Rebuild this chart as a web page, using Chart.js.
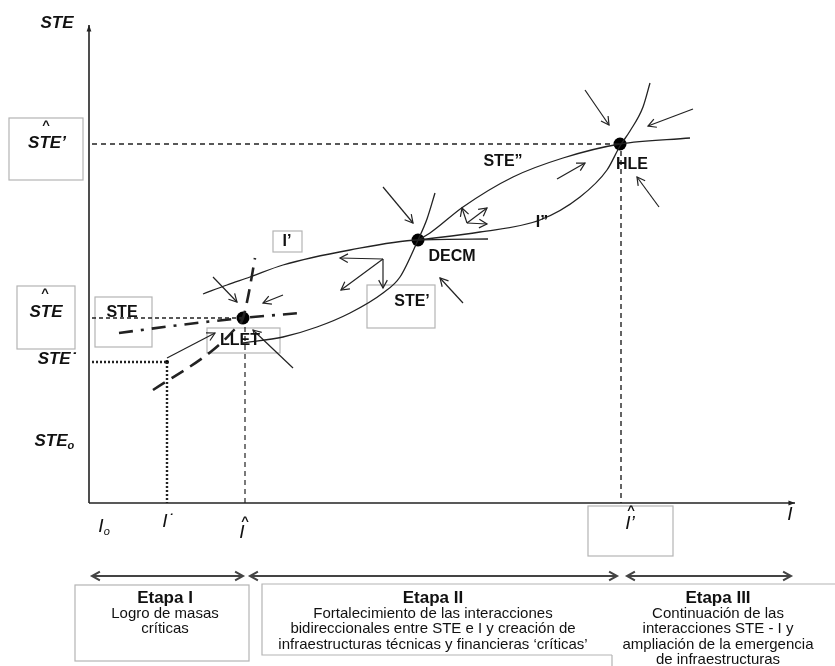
<!DOCTYPE html>
<html>
<head>
<meta charset="utf-8">
<script src="https://cdn.jsdelivr.net/npm/chart.js@4/dist/chart.umd.min.js"></script>
<style>html,body{margin:0;padding:0;background:#fff}</style>
</head>
<body>
<canvas id="myChart" width="835" height="666"></canvas>
<script>
// diagram units: origin at the I0 / STE0 corner, one unit ~ 10px

// axes
var axisSTE = [[0, 0], [0, 47.8]];
var axisI = [[0, 0], [70.6, 0]];

// guide lines to the equilibria
var hleLevel = [[0.3, 35.9], [53.1, 35.9]];
var hleDrop = [[53.2, 35.2], [53.2, 0]];
var lletLevel = [[0.3, 18.5], [15.4, 18.5]];
var lletDrop = [[15.6, 17.6], [15.6, 0]];
var starLevel = [[0.3, 14.1], [7.8, 14.1]];
var starDrop = [[7.8, 14.1], [7.8, 0]];

// curves
var curveI1 = [[11.4, 20.9], [13.8, 21.8], [16.1, 22.6], [19.4, 23.8], [26.1, 25.3], [32.9, 26.3], [39.9, 26.4]];
var curveSTE1 = [[15.4, 16.0], [19.4, 16.6], [22.8, 17.6], [26.1, 19.0], [29.4, 21.0], [31.1, 22.6], [32.9, 26.3], [33.8, 28.4], [34.6, 31.0]];
var curveSTE2 = [[32.9, 26.3], [34.1, 27.0], [37.4, 29.6], [42.4, 32.6], [47.4, 34.5], [53.1, 35.9], [60.1, 36.5]];
var curveI2 = [[32.9, 26.3], [39.1, 27.1], [45.1, 28.3], [49.1, 30.6], [51.8, 33.3], [53.1, 35.7], [54.1, 37.2], [55.4, 39.6], [56.1, 42.0]];
var steepDash = [[6.4, 11.3], [12.4, 15.3], [14.4, 17.2], [15.4, 18.5], [15.9, 20.6], [16.6, 24.5]];
var dashDot = [[3.0, 17.0], [9.1, 17.8], [15.4, 18.5], [21.1, 19.0]];

// equilibrium points
var equilibria = [[15.4, 18.5], [32.9, 26.3], [53.1, 35.9]];
var startPoint = [[7.8, 14.1]];

// small arrows [from, to]
var arrows = [
  [[7.8, 14.5], [12.6, 17.0]],
  [[12.4, 22.6], [14.8, 20.1]],
  [[19.4, 20.8], [17.4, 20.0]],
  [[20.4, 13.5], [16.4, 17.3]],
  [[29.4, 31.6], [32.4, 28.0]],
  [[37.4, 20.0], [35.1, 22.5]],
  [[29.4, 24.4], [25.1, 24.5]],
  [[29.4, 24.4], [29.4, 21.5]],
  [[29.4, 24.4], [25.2, 21.3]],
  [[37.8, 28.0], [37.3, 29.5]],
  [[37.8, 28.0], [39.8, 29.5]],
  [[37.8, 28.0], [39.8, 27.9]],
  [[46.8, 32.4], [49.6, 34.0]],
  [[49.6, 41.3], [52.0, 37.8]],
  [[60.4, 39.4], [55.9, 37.7]],
  [[57.0, 29.6], [54.8, 32.6]]
];

// stage spans along I
var stageSpans = [[0.3, 15.4], [16.1, 52.8], [53.8, 70.2]];
var stageTitles = ['Etapa I', 'Etapa II', 'Etapa III'];
var stageText = [
  ['Logro de masas', 'críticas'],
  ['Fortalecimiento de las interacciones', 'bidireccionales entre STE e I y creación de', 'infraestructuras técnicas y financieras \u2018críticas\u2019'],
  ['Continuación de las', 'interacciones STE - I y', 'ampliación de la emergencia', 'de infraestructuras']
];
var stageCenters = [7.6, 34.4, 62.9];

// label boxes [x1, yTop, x2, yBottom]
var boxes = [
  [-8.0, 38.5, -0.6, 32.3],
  [-7.2, 21.7, -1.4, 15.4],
  [0.6, 20.6, 6.3, 15.6],
  [11.8, 17.5, 19.1, 15.0],
  [18.4, 27.2, 21.3, 25.1],
  [27.8, 21.8, 34.6, 17.5],
  [49.9, -0.3, 58.4, -5.3],
  [-1.4, -8.2, 16.0, -15.8]
];
// open frame round the later stages
var stageFrame = [[74.6, -8.1], [17.3, -8.1], [17.3, -15.2], [52.3, -15.2]];
var stageFrameTail = [[52.3, -15.2], [52.3, -16.3]];

// axis labels: [text, x, y, subscript]
var axisLabels = [
  ['STE', -3.2, 48.0, ''],
  ['STE\u2019', -4.2, 36.0, ''],
  ['STE', -4.3, 19.1, ''],
  ['STE\u02D9', -3.2, 14.4, ''],
  ['STE', -3.8, 6.2, 'o']
];
var iLabels = [
  ['I', 1.2, -2.4, 'o'],
  ['I\u02D9', 7.9, -1.9, ''],
  ['I', 15.3, -3.0, ''],
  ['I\u2019', 54.1, -2.1, ''],
  ['I', 70.1, -1.2, '']
];
var hats = [[-4.3, 37.8], [-4.4, 21.0], [15.6, -1.8], [54.2, -0.7]];

// curve / point names
var curveLabels = [
  ['STE', 3.3, 19.0],
  ['LLET', 15.1, 16.2],
  ['I\u2019', 19.8, 26.1],
  ['STE\u2019', 32.3, 20.1],
  ['DECM', 36.3, 24.6],
  ['STE\u201D', 41.4, 34.1],
  ['I\u201D', 45.3, 28.0],
  ['HLE', 54.3, 33.8]
];

var INK = '#222';

function pts(arr) {
  return arr.map(function (p) { return {x: p[0], y: p[1]}; });
}
function line(arr, extra) {
  return Object.assign({
    data: pts(arr), showLine: true, pointRadius: 0, borderColor: INK,
    borderWidth: 1.3, tension: 0, fill: false
  }, extra || {});
}
var smooth = {tension: 0.4, cubicInterpolationMode: 'monotone'};

var datasets = [
  line(axisSTE, {borderWidth: 1.6, arrow: 'filled'}),
  line(axisI, {borderWidth: 1.6, arrow: 'filled'}),
  line(hleLevel, {borderWidth: 1.6, borderDash: [5, 4]}),
  line(hleDrop, {borderWidth: 1.4, borderDash: [5, 4]}),
  line(lletLevel, {borderWidth: 1.6, borderDash: [4, 3]}),
  line(lletDrop, {borderWidth: 1.2, borderDash: [5, 4]}),
  line(starLevel, {borderWidth: 2.4, borderDash: [2, 2]}),
  line(starDrop, {borderWidth: 2.4, borderDash: [2, 2]}),
  line(curveI1, smooth),
  line(curveSTE1, smooth),
  line(curveSTE2, smooth),
  line(curveI2, smooth),
  line(steepDash, Object.assign({borderWidth: 2.6, borderDash: [14, 8]}, smooth)),
  line(dashDot, Object.assign({borderWidth: 2.6, borderDash: [14, 8, 3, 8]}, smooth)),
  line(stageFrame, {borderColor: '#b4b4b4', borderWidth: 1.2}),
  line(stageFrameTail, {borderColor: '#b4b4b4', borderWidth: 1.2})
];
arrows.forEach(function (a) {
  datasets.push(line(a, {borderWidth: 1.2, arrow: 'open'}));
});
stageSpans.forEach(function (s) {
  datasets.push(line([[s[0], -7.3], [s[1], -7.3]], {borderColor: '#444', borderWidth: 2, arrow: 'open', both: true}));
});
datasets.push({data: pts(equilibria), pointRadius: 6.5, pointBackgroundColor: '#000', pointBorderWidth: 0, showLine: false});
datasets.push({data: pts(startPoint), pointRadius: 2, pointBackgroundColor: '#000', pointBorderWidth: 0, showLine: false});

function head(ctx, a, b, style) {
  var ang = Math.atan2(b.y - a.y, b.x - a.x);
  var len = style === 'filled' ? 7 : 9, spread = style === 'filled' ? 0.35 : 0.5;
  ctx.beginPath();
  ctx.moveTo(b.x - len * Math.cos(ang - spread), b.y - len * Math.sin(ang - spread));
  ctx.lineTo(b.x, b.y);
  ctx.lineTo(b.x - len * Math.cos(ang + spread), b.y - len * Math.sin(ang + spread));
  if (style === 'filled') { ctx.closePath(); ctx.fill(); } else { ctx.stroke(); }
}

var boxPlugin = {
  id: 'boxes',
  beforeDatasetsDraw: function (chart) {
    var ctx = chart.ctx, sx = chart.scales.x, sy = chart.scales.y;
    ctx.save();
    ctx.strokeStyle = '#b4b4b4';
    ctx.lineWidth = 1.2;
    boxes.forEach(function (b) {
      var x1 = sx.getPixelForValue(b[0]), y1 = sy.getPixelForValue(b[1]);
      var x2 = sx.getPixelForValue(b[2]), y2 = sy.getPixelForValue(b[3]);
      ctx.strokeRect(x1, y1, x2 - x1, y2 - y1);
    });
    ctx.restore();
  }
};

var decorPlugin = {
  id: 'decor',
  afterDatasetsDraw: function (chart) {
    var ctx = chart.ctx, sx = chart.scales.x, sy = chart.scales.y;
    ctx.save();
    chart.data.datasets.forEach(function (ds, i) {
      if (!ds.arrow) return;
      var p = chart.getDatasetMeta(i).data;
      ctx.strokeStyle = ds.borderColor;
      ctx.fillStyle = ds.borderColor;
      ctx.lineWidth = ds.borderWidth;
      head(ctx, p[p.length - 2], p[p.length - 1], ds.arrow);
      if (ds.both) head(ctx, p[1], p[0], ds.arrow);
    });

    ctx.fillStyle = '#111';
    ctx.textAlign = 'center';
    ctx.textBaseline = 'middle';

    function txt(t, x, y, font, sub) {
      var px = sx.getPixelForValue(x), py = sy.getPixelForValue(y);
      ctx.font = font;
      ctx.fillText(t, px, py);
      if (sub) {
        var w = ctx.measureText(t).width;
        ctx.font = font.replace(/\d+px/, '11px');
        ctx.textAlign = 'left';
        ctx.fillText(sub, px + w / 2, py + 5);
        ctx.textAlign = 'center';
      }
    }
    axisLabels.forEach(function (l) { txt(l[0], l[1], l[2], 'italic bold 17px "Liberation Sans", Arial, sans-serif', l[3]); });
    iLabels.forEach(function (l) { txt(l[0], l[1], l[2], 'italic 19px "Liberation Sans", Arial, sans-serif', l[3]); });
    hats.forEach(function (h) { txt('^', h[0], h[1], 'bold 13px "Liberation Sans", Arial, sans-serif'); });
    curveLabels.forEach(function (l) { txt(l[0], l[1], l[2], 'bold 16px "Liberation Sans", Arial, sans-serif'); });

    stageTitles.forEach(function (t, i) {
      txt(t, stageCenters[i], -9.5, 'bold 17px "Liberation Sans", Arial, sans-serif');
      stageText[i].forEach(function (s, j) {
        txt(s, stageCenters[i], -11.1 - j * 1.53, '15px "Liberation Sans", Arial, sans-serif');
      });
    });
    ctx.restore();
  }
};

var ctxDir = document.getElementById('myChart');
var diagram = new Chart(ctxDir, {
  type: 'scatter',
  data: {datasets: datasets},
  options: {
    responsive: false,
    animation: false,
    layout: {padding: 0, autoPadding: false},
    plugins: {legend: {display: false}, tooltip: {enabled: false}},
    scales: {
      x: {type: 'linear', display: false, min: -8.9, max: 74.6},
      y: {type: 'linear', display: false, min: -16.3, max: 50.3}
    }
  },
  plugins: [boxPlugin, decorPlugin]
});
</script>
</body>
</html>
